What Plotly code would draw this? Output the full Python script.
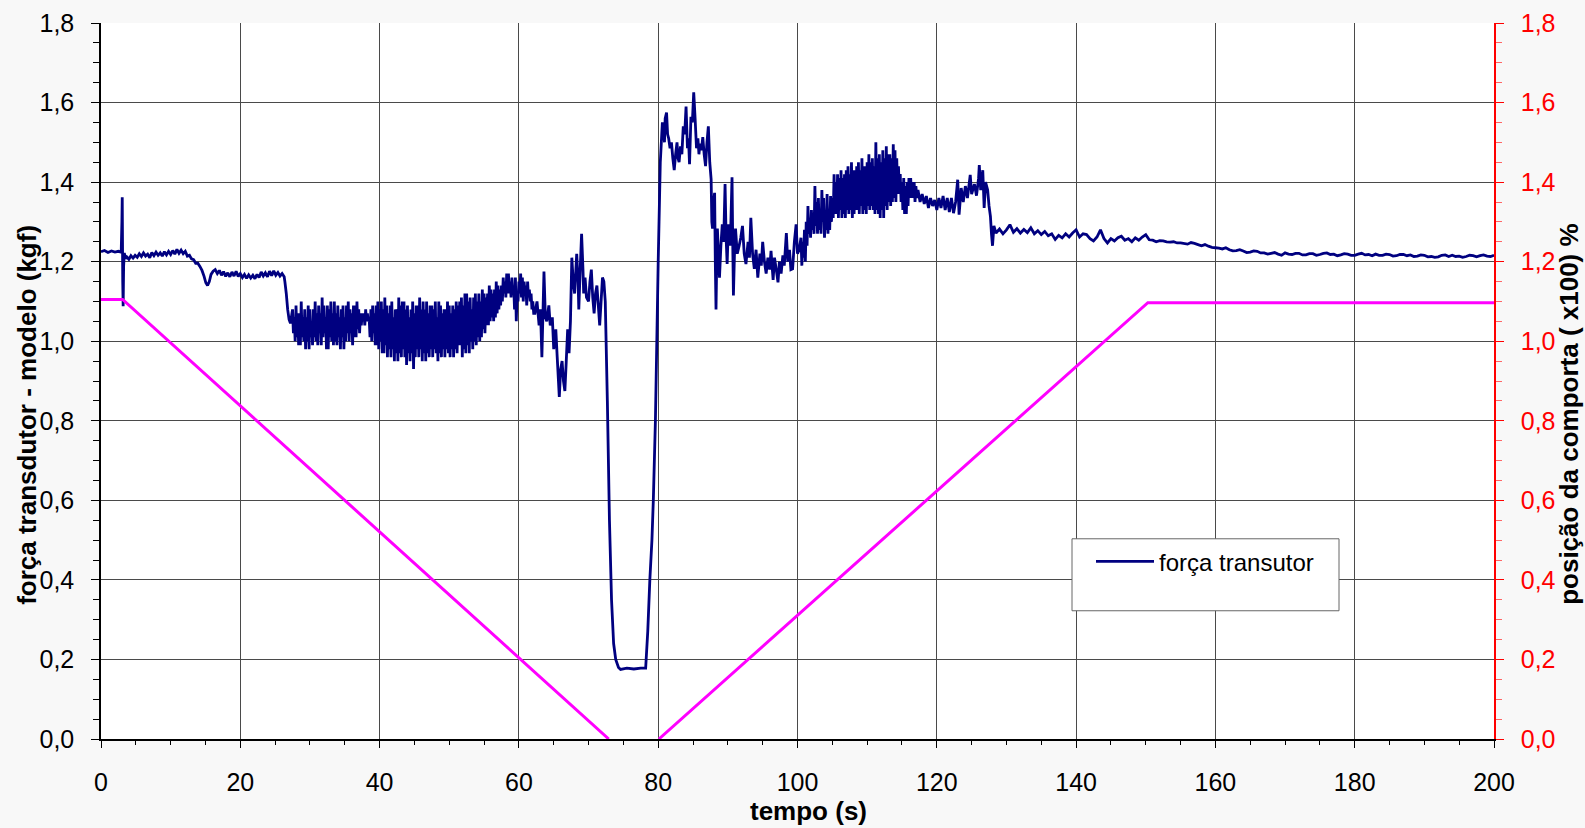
import plotly.graph_objects as go

# ---------------- data ----------------
# force transducer (kgf): irregular stretches as (time s, value) pairs,
# regular stretches as start time, step and a list of values,
# noisy stretches as upper / lower envelope readings every 0.25 s
force_start_pairs = [
    (0.0, 1.225), (0.5, 1.228), (1.0, 1.223), (1.5, 1.227), (2.0, 1.224), (2.5, 1.226),
    (2.9, 1.224), (3.0, 1.30), (3.05, 1.362), (3.12, 1.15), (3.18, 1.088), (3.25, 1.19),
    (3.35, 1.222), (3.5, 1.208),
]
force_seg1_start, force_seg1_step = 3.7, 0.3
force_seg1_values = [
    1.212, 1.206, 1.215, 1.209, 1.216, 1.211, 1.220, 1.213, 1.222, 1.214, 1.219, 1.210,
    1.223, 1.215, 1.224, 1.216, 1.222, 1.214, 1.225, 1.217, 1.226, 1.218, 1.228, 1.219,
    1.231, 1.221, 1.229, 1.220, 1.226, 1.214, 1.216, 1.207, 1.205, 1.196, 1.196, 1.188,
]
force_dip_pairs = [
    (14.5, 1.178), (14.8, 1.163), (15.05, 1.147), (15.3, 1.140), (15.55, 1.150),
    (15.8, 1.168), (16.1, 1.176),
]
force_seg2_start, force_seg2_step = 16.4, 0.3
force_seg2_values = [
    1.180, 1.170, 1.178, 1.166, 1.175, 1.163, 1.172, 1.162, 1.174, 1.164, 1.176, 1.163,
    1.170, 1.160, 1.168, 1.158, 1.167, 1.159, 1.166, 1.157, 1.168, 1.160, 1.174, 1.164,
    1.172, 1.162, 1.176, 1.165, 1.177, 1.166, 1.173, 1.164, 1.170, 1.162,
]
force_drop_pairs = [(26.4, 1.150), (26.6, 1.120), (26.8, 1.080), (27.0, 1.055), (27.2, 1.045)]

force_band1_start = 27.5
force_band1_upper = [
    1.08, 1.06, 1.09, 1.07,  1.07, 1.10, 1.06, 1.08,  1.06, 1.09, 1.08, 1.05,
    1.08, 1.10, 1.07, 1.09,  1.07, 1.11, 1.09, 1.06,  1.09, 1.08, 1.10, 1.07,
    1.10, 1.07, 1.09, 1.06,  1.08, 1.09, 1.06, 1.09,  1.10, 1.08, 1.07, 1.09,
    1.09, 1.10, 1.08, 1.07,  1.07, 1.07, 1.08, 1.07,  1.06, 1.08, 1.09, 1.07,
    1.09, 1.10, 1.08, 1.10,  1.08, 1.11, 1.09, 1.07,  1.09, 1.10, 1.06, 1.08,
    1.08, 1.11, 1.09, 1.10,  1.10, 1.08, 1.09, 1.06,  1.08, 1.10, 1.07, 1.09,
    1.09, 1.11, 1.08, 1.10,  1.08, 1.10, 1.07, 1.09,  1.09, 1.08, 1.10, 1.06,
    1.10, 1.09, 1.07, 1.08,  1.08, 1.10, 1.09, 1.07,  1.09, 1.08, 1.10, 1.09,
    1.10, 1.11, 1.09, 1.12,  1.12, 1.10, 1.11, 1.08,  1.11, 1.12, 1.10, 1.12,
    1.10, 1.13, 1.12, 1.11,  1.12, 1.14, 1.13, 1.12,  1.13, 1.15, 1.14, 1.13,
    1.14, 1.16, 1.15, 1.17,  1.17, 1.15, 1.16, 1.14,  1.16, 1.12, 1.15, 1.17,
    1.16, 1.15, 1.14, 1.15,  1.13, 1.12, 1.10,
]
force_band1_lower = [
    1.02, 1.00, 1.01, 0.99,  0.99, 1.01, 1.00, 0.98,  1.00, 0.98, 1.01, 0.99,
    1.01, 1.00, 0.99, 1.02,  0.99, 1.01, 1.02, 0.98,  0.98, 1.01, 1.00, 0.99,
    1.00, 0.99, 1.01, 0.98,  1.01, 0.98, 1.00, 1.02,  1.00, 1.02, 0.99, 1.01,
    1.01, 1.03, 1.02, 1.04,  1.05, 1.04, 1.05, 1.05,  1.01, 1.00, 1.02, 0.99,
    0.99, 0.98, 1.00, 0.97,  0.97, 0.99, 0.96, 0.98,  0.96, 0.98, 0.95, 0.97,
    0.95, 0.97, 0.96, 0.98,  0.96, 0.94, 0.97, 0.95,  0.97, 0.93, 0.96, 0.98,
    0.96, 0.98, 0.95, 0.97,  0.95, 0.97, 0.96, 0.98,  0.96, 0.98, 0.97, 0.95,
    0.97, 0.96, 0.98, 0.96,  0.98, 0.97, 0.96, 0.98,  0.96, 0.98, 0.97, 0.99,
    0.99, 0.96, 0.98, 0.97,  0.99, 0.97, 1.00, 0.98,  1.00, 0.99, 1.01, 1.00,
    1.01, 1.03, 1.02, 1.04,  1.04, 1.05, 1.06, 1.05,  1.06, 1.07, 1.08, 1.09,
    1.10, 1.12, 1.11, 1.12,  1.12, 1.11, 1.12, 1.08,  1.05, 1.10, 1.12, 1.11,
    1.10, 1.12, 1.09, 1.11,  1.10, 1.08, 1.07,
]
force_mid_pairs = [
    (62.3, 1.07), (62.6, 1.10), (62.9, 1.04), (63.1, 1.08), (63.3, 0.96), (63.6, 1.175),
    (63.8, 1.06), (64.0, 1.05), (64.3, 1.09), (64.5, 1.04), (64.8, 1.06), (65.0, 0.98),
    (65.3, 1.03), (65.5, 0.96), (65.8, 0.86), (66.0, 0.93), (66.2, 0.95), (66.4, 0.90),
    (66.6, 0.875), (66.8, 0.95), (67.0, 1.03), (67.2, 0.97), (67.4, 1.05), (67.6, 1.21),
    (67.8, 1.15), (68.0, 1.12), (68.3, 1.22), (68.5, 1.15), (68.6, 1.08), (68.8, 1.18),
    (69.0, 1.27), (69.2, 1.18), (69.3, 1.12), (69.5, 1.16), (69.7, 1.11), (70.0, 1.10),
    (70.2, 1.15), (70.4, 1.18), (70.6, 1.11), (70.8, 1.07), (71.0, 1.12), (71.2, 1.14),
    (71.4, 1.09), (71.6, 1.04), (71.8, 1.10), (72.0, 1.16), (72.2, 1.15), (72.4, 1.10),
    (72.7, 0.85), (73.0, 0.55), (73.3, 0.35), (73.6, 0.24), (73.9, 0.20), (74.3, 0.18),
    (74.6, 0.175), (75.5, 0.178), (76.5, 0.176), (77.5, 0.178), (78.2, 0.178),
    (78.5, 0.27), (78.8, 0.40), (79.1, 0.50), (79.3, 0.60), (79.6, 0.80), (79.8, 1.00),
    (80.0, 1.20), (80.3, 1.45), (80.6, 1.55),
    (80.7, 1.54), (80.9, 1.50), (81.0, 1.56), (81.2, 1.575), (81.35, 1.52), (81.5, 1.51),
    (81.7, 1.485), (81.9, 1.50), (82.1, 1.46), (82.3, 1.43), (82.5, 1.47), (82.7, 1.50),
    (82.85, 1.46), (83.0, 1.45), (83.2, 1.49), (83.4, 1.47), (83.6, 1.54), (83.8, 1.52),
    (84.0, 1.59), (84.2, 1.485), (84.35, 1.51), (84.5, 1.445), (84.7, 1.564), (84.9, 1.55),
    (85.1, 1.626), (85.3, 1.56), (85.5, 1.485), (85.7, 1.51), (85.85, 1.47), (86.0, 1.497),
    (86.2, 1.48), (86.4, 1.513), (86.6, 1.47), (86.8, 1.44), (87.0, 1.50), (87.2, 1.54),
    (87.4, 1.45), (87.6, 1.407), (87.7, 1.30), (87.8, 1.283), (87.95, 1.35), (88.1, 1.373),
    (88.2, 1.20), (88.3, 1.08), (88.4, 1.20), (88.5, 1.283), (88.65, 1.22), (88.8, 1.16),
    (89.0, 1.24), (89.2, 1.294), (89.4, 1.25), (89.6, 1.395), (89.75, 1.26), (89.9, 1.194),
    (90.0, 1.25), (90.1, 1.294), (90.35, 1.24), (90.6, 1.412), (90.7, 1.25), (90.8, 1.115),
    (90.95, 1.22), (91.1, 1.283), (91.35, 1.22), (91.6, 1.238), (91.85, 1.26), (92.1, 1.29),
    (92.35, 1.22), (92.6, 1.194), (92.9, 1.25), (93.1, 1.21), (93.3, 1.31), (93.55, 1.22),
    (93.8, 1.182), (94.05, 1.23), (94.3, 1.16), (94.6, 1.22), (94.8, 1.19), (95.0, 1.25),
    (95.25, 1.20), (95.5, 1.17), (95.75, 1.21), (96.0, 1.18), (96.2, 1.227), (96.35, 1.19),
    (96.5, 1.154), (96.7, 1.21), (96.95, 1.18), (97.2, 1.148), (97.4, 1.20), (97.65, 1.17),
    (97.9, 1.216), (98.1, 1.19), (98.4, 1.272), (98.6, 1.20), (98.85, 1.23), (99.05, 1.18),
    (99.3, 1.182), (99.55, 1.25), (99.8, 1.294), (100.0, 1.22), (100.25, 1.23),
]
force_band2_start = 100.5
force_band2_upper = [
    1.26, 1.25, 1.28, 1.30,  1.34, 1.31, 1.33, 1.32,  1.39, 1.35, 1.36, 1.33,
    1.38, 1.36, 1.32, 1.37,  1.33, 1.365, 1.36, 1.42, 1.40, 1.42, 1.41, 1.43,
    1.41, 1.42, 1.43, 1.44,  1.42, 1.45, 1.43, 1.43,  1.44, 1.45, 1.43, 1.46,
    1.44, 1.44, 1.45, 1.47,  1.45, 1.46, 1.44, 1.50,  1.46, 1.47, 1.45, 1.48,
    1.46, 1.49, 1.47, 1.47,  1.46, 1.495, 1.48, 1.46, 1.44, 1.42, 1.40, 1.41,
    1.39, 1.40, 1.41, 1.41,  1.40, 1.40, 1.39,
]
force_band2_lower = [
    1.19, 1.21, 1.20, 1.24,  1.27, 1.26, 1.28, 1.27,  1.29, 1.27, 1.28, 1.27,
    1.30, 1.26, 1.28, 1.27,  1.28, 1.30, 1.31, 1.32,  1.32, 1.31, 1.33, 1.31,
    1.32, 1.31, 1.33, 1.32,  1.33, 1.31, 1.32, 1.33,  1.33, 1.32, 1.34, 1.32,
    1.33, 1.32, 1.34, 1.33,  1.34, 1.33, 1.32, 1.33,  1.32, 1.31, 1.33, 1.31,
    1.34, 1.33, 1.35, 1.34,  1.35, 1.36, 1.35, 1.37,  1.37, 1.35, 1.33, 1.32,
    1.32, 1.34, 1.36, 1.36,  1.36, 1.35, 1.36,
]
force_late_pairs = [
    (117.3, 1.38), (117.6, 1.35), (117.9, 1.37), (118.2, 1.345), (118.5, 1.365), (118.8, 1.335),
    (119.1, 1.36), (119.4, 1.34), (119.7, 1.355), (120.0, 1.33), (120.3, 1.36), (120.6, 1.335),
    (120.9, 1.365), (121.2, 1.33), (121.5, 1.36), (121.8, 1.325), (122.1, 1.36), (122.4, 1.322),
    (122.7, 1.35), (123.0, 1.406), (123.2, 1.318), (123.5, 1.385), (123.8, 1.35), (124.1, 1.39),
    (124.4, 1.36), (124.8, 1.418), (125.0, 1.37), (125.4, 1.395), (125.7, 1.366), (126.0, 1.41),
    (126.1, 1.443), (126.3, 1.38), (126.6, 1.43), (126.8, 1.335), (127.0, 1.40), (127.3, 1.38),
    (127.5, 1.34), (127.7, 1.314), (127.85, 1.27), (128.0, 1.24), (128.2, 1.29),
]
force_seg5_start, force_seg5_step = 128.5, 0.5
force_seg5_values = [
    1.272, 1.282, 1.270, 1.280, 1.293, 1.274, 1.283, 1.272, 1.281, 1.273, 1.285, 1.270,
    1.278, 1.268, 1.276, 1.265, 1.270, 1.256, 1.266, 1.260, 1.270, 1.262, 1.272, 1.280,
    1.262, 1.270, 1.268, 1.258, 1.252, 1.262, 1.280, 1.258, 1.247, 1.258, 1.252, 1.260,
    1.264, 1.254, 1.258, 1.250, 1.260, 1.254, 1.262, 1.268, 1.255, 1.254, 1.250, 1.253,
    1.252, 1.250, 1.249, 1.250, 1.247, 1.247,
]
force_seg6_start, force_seg6_step = 156.0, 0.5
force_seg6_values = [
    1.244, 1.248, 1.246, 1.243, 1.240, 1.243, 1.239, 1.236, 1.235, 1.234, 1.232, 1.235,
    1.230, 1.227, 1.228, 1.230, 1.227, 1.223, 1.224, 1.227, 1.226, 1.222, 1.222, 1.219,
    1.221, 1.223, 1.219, 1.216, 1.222, 1.219, 1.218, 1.221, 1.221, 1.217, 1.217, 1.220,
    1.220, 1.216, 1.218, 1.221, 1.222, 1.218, 1.219, 1.215, 1.217, 1.220, 1.219, 1.216,
    1.216, 1.219, 1.221, 1.217, 1.218, 1.215, 1.219, 1.216, 1.216, 1.219, 1.218, 1.214,
    1.215, 1.218, 1.218, 1.215, 1.217, 1.213, 1.214, 1.217, 1.216, 1.212, 1.213, 1.211,
    1.212, 1.216, 1.217, 1.213, 1.216, 1.213, 1.214, 1.211, 1.213, 1.216, 1.215, 1.212,
    1.215, 1.217, 1.214, 1.213, 1.216,
]

# gate position (x100 %), right axis; None = no line drawn while at zero
gate_time = [0.0, 3.1, 72.9, None, 80.1, 150.3, 200.0]
gate_value = [1.105, 1.105, 0.0, None, 0.0, 1.097, 1.097]

x_ticks = [0, 20, 40, 60, 80, 100, 120, 140, 160, 180, 200]
y_ticks = [0.0, 0.2, 0.4, 0.6, 0.8, 1.0, 1.2, 1.4, 1.6, 1.8]

x_title = "tempo (s)"
y_title = "força transdutor - modelo (kgf)"
y2_title = "posição da comporta ( x100) %"

# ---------------- assemble force series ----------------
force_t, force_v = [], []


def add_pairs(pairs):
    for t, v in pairs:
        force_t.append(t)
        force_v.append(v)


def add_regular(start, step, values):
    for i, v in enumerate(values):
        force_t.append(round(start + i * step, 4))
        force_v.append(v)


def add_band(start, upper, lower, step=0.25):
    # peaks and troughs alternate: peak readings at start + i*step, troughs half a step later
    for i, (hi, lo) in enumerate(zip(upper, lower)):
        force_t.append(round(start + i * step, 4))
        force_v.append(hi)
        force_t.append(round(start + i * step + step / 2, 4))
        force_v.append(lo)


add_pairs(force_start_pairs)
add_regular(force_seg1_start, force_seg1_step, force_seg1_values)
add_pairs(force_dip_pairs)
add_regular(force_seg2_start, force_seg2_step, force_seg2_values)
add_pairs(force_drop_pairs)
add_band(force_band1_start, force_band1_upper, force_band1_lower)
add_pairs(force_mid_pairs)
add_band(force_band2_start, force_band2_upper, force_band2_lower)
add_pairs(force_late_pairs)
add_regular(force_seg5_start, force_seg5_step, force_seg5_values)
add_regular(force_seg6_start, force_seg6_step, force_seg6_values)

FONT = "Liberation Sans, Arial, sans-serif"
GRID = "#4a4a4a"
# plot area in page pixels (for placing paper-relative items)
PL, PR, PT, PB = 101, 1494, 23, 739.3
def px_x(px):
    return (px - PL) / (PR - PL)
def px_y(py):
    return (PB - py) / (PB - PT)

fig = go.Figure()
fig.add_trace(go.Scatter(
    x=gate_time, y=gate_value, yaxis="y2", mode="lines",
    line=dict(color="#ff00ff", width=3), showlegend=False, connectgaps=False,
    name="posição da comporta",
))
fig.add_trace(go.Scatter(
    x=force_t, y=force_v, mode="lines",
    line=dict(color="#000080", width=2.8, simplify=False), name="força transutor",
))

# legend frame
fig.add_shape(type="rect", xref="paper", yref="paper",
              x0=px_x(1072), x1=px_x(1339), y0=px_y(611), y1=px_y(539),
              line=dict(color="#666666", width=1), fillcolor="white", layer="above")

title_font = dict(family=FONT, size=26, color="black", weight="bold")
fig.add_annotation(text=x_title, xref="paper", yref="paper", x=px_x(808), y=px_y(811),
                   xanchor="center", yanchor="middle", showarrow=False, font=title_font)
fig.add_annotation(text=y_title, xref="paper", yref="paper", x=px_x(27), y=px_y(415),
                   xanchor="center", yanchor="middle", textangle=-90, showarrow=False,
                   font=title_font)
fig.add_annotation(text=y2_title, xref="paper", yref="paper", x=px_x(1569), y=px_y(415),
                   xanchor="center", yanchor="middle", textangle=-90, showarrow=False,
                   font=title_font)

fig.update_layout(
    width=1585, height=828,
    margin=dict(l=101, r=91, t=23, b=89, autoexpand=False),
    paper_bgcolor="#f8f8f8", plot_bgcolor="white",
    separators=",.",
    font=dict(family=FONT, color="black"),
    showlegend=True,
    legend=dict(x=px_x(1091), y=px_y(562), xanchor="left", yanchor="middle",
                bgcolor="rgba(0,0,0,0)", borderwidth=0, itemwidth=58,
                font=dict(family=FONT, size=24, color="black")),
    xaxis=dict(
        range=[0, 200], tickvals=x_ticks, showgrid=True, gridcolor=GRID, gridwidth=1,
        showline=True, linecolor="black", linewidth=1.5, mirror=False, zeroline=False,
        ticks="outside", ticklen=7, tickcolor="black", tickwidth=1,
        minor=dict(dtick=5, ticks="outside", ticklen=4, tickcolor="black", showgrid=False),
        tickfont=dict(family=FONT, size=25, color="black"), ticklabelstandoff=13,
        automargin=False,
    ),
    yaxis=dict(
        range=[0, 1.8], tickvals=y_ticks, tickformat=".1f", showgrid=True, gridcolor=GRID, gridwidth=1,
        showline=True, linecolor="black", linewidth=1.5, zeroline=False,
        ticks="outside", ticklen=8, tickcolor="black",
        minor=dict(dtick=0.05, ticks="outside", ticklen=6, tickcolor="black", showgrid=False),
        tickfont=dict(family=FONT, size=25, color="black"), ticklabelstandoff=12,
        automargin=False,
    ),
    yaxis2=dict(
        range=[0, 1.8], tickvals=y_ticks, tickformat=".1f", overlaying="y", side="right",
        showgrid=False, zeroline=False, showline=True, linecolor="red", linewidth=1.5,
        ticks="outside", ticklen=8, tickcolor="red",
        minor=dict(dtick=0.05, ticks="outside", ticklen=6, tickcolor="#ff6666", showgrid=False),
        tickfont=dict(family=FONT, size=25, color="red"), ticklabelstandoff=12,
        automargin=False,
    ),
)

fig.write_html("out.html", config={"displayModeBar": False},
               post_script="document.body.style.margin='0px';")
